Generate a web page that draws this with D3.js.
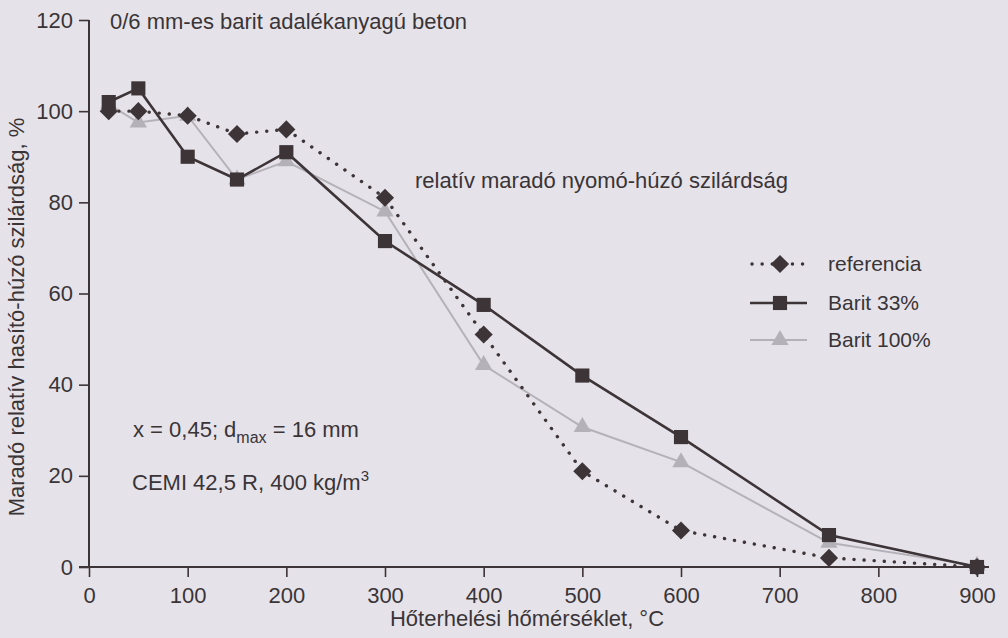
<!DOCTYPE html>
<html>
<head>
<meta charset="utf-8">
<script src="https://cdn.jsdelivr.net/npm/d3@7"></script>
<style>
  html, body { margin: 0; padding: 0; background: #e5e3e9; }
  svg { display: block; }
  svg text { font-family: "Liberation Sans", Arial, sans-serif; }
</style>
</head>
<body>
<svg id="chart" width="1008" height="638"></svg>
<script>
// temperatures (°C) and relative residual strength (%)
const temps = [20, 50, 100, 150, 200, 300, 400, 500, 600, 750, 900];
const referencia = [100, 100, 99, 95, 96, 81, 51, 21, 8, 2, 0];
const barit33 = [102, 105, 90, 85, 91, 71.5, 57.5, 42, 28.5, 7, 0];
const barit100 = [101.5, 97.5, 99, 85, 89, 78, 44.3, 30.7, 23, 5.3, 0.3];
const xTicks = [0, 100, 200, 300, 400, 500, 600, 700, 800, 900];
const yTicks = [0, 20, 40, 60, 80, 100, 120];

const DARK = '#3d3437';
const LIGHT = '#b4b2b8';
const TEXT = '#3a3437';

const svg = d3.select('#chart');

const x = d3.scaleLinear().domain([0, 900]).range([89, 977]);
const y = d3.scaleLinear().domain([0, 120]).range([567, 20]);

// axes
const xAxis = svg.append('g')
  .attr('transform', `translate(0,${y(0)})`)
  .call(d3.axisBottom(x).tickValues(xTicks).tickSize(10).tickPadding(10));
xAxis.select('.domain').remove();
xAxis.append('line')
  .attr('x1', x(0) - 10).attr('x2', x(900) + 12)
  .attr('stroke', DARK).attr('stroke-width', 2);

const yAxis = svg.append('g')
  .attr('transform', `translate(${x(0)},0)`)
  .call(d3.axisLeft(y).tickValues(yTicks).tickSize(10).tickPadding(6));
yAxis.select('.domain').remove();
yAxis.append('line')
  .attr('y1', y(120)).attr('y2', y(0))
  .attr('stroke', DARK).attr('stroke-width', 2);

svg.selectAll('.tick line').attr('stroke', DARK).attr('stroke-width', 1.6);
svg.selectAll('.tick text').attr('fill', TEXT).style('font-size', '22px');

// series
const rows = (vals) => temps.map((t, i) => [t, vals[i]]);
const line = d3.line().x(d => x(d[0])).y(d => y(d[1]));

svg.append('path').datum(rows(barit100))
  .attr('d', line).attr('fill', 'none')
  .attr('stroke', LIGHT).attr('stroke-width', 2);

svg.append('path').datum(rows(barit33))
  .attr('d', line).attr('fill', 'none')
  .attr('stroke', DARK).attr('stroke-width', 2.6);

svg.append('path').datum(rows(referencia))
  .attr('d', line).attr('fill', 'none')
  .attr('stroke', DARK).attr('stroke-width', 3.4)
  .attr('stroke-linecap', 'round')
  .attr('stroke-dasharray', '0.1 10');

const diamond = d3.symbol().type(d3.symbolDiamond2).size(210);
const square = d3.symbol().type(d3.symbolSquare).size(200);
const triangle = d3.symbol().type(d3.symbolTriangle).size(130);

svg.append('g').selectAll('path')
  .data(rows(barit100)).join('path')
  .attr('transform', d => `translate(${x(d[0])},${y(d[1])})`)
  .attr('d', triangle).attr('fill', LIGHT);

svg.append('g').selectAll('path')
  .data(rows(barit33)).join('path')
  .attr('transform', d => `translate(${x(d[0])},${y(d[1])})`)
  .attr('d', square).attr('fill', DARK);

svg.append('g').selectAll('path')
  .data(rows(referencia)).join('path')
  .attr('transform', d => `translate(${x(d[0])},${y(d[1])})`)
  .attr('d', diamond).attr('fill', DARK);

// legend
const legend = [
  { name: 'referencia', sym: diamond, color: DARK, width: 3.4, dash: '0.1 10', y: 264 },
  { name: 'Barit 33%', sym: square, color: DARK, width: 2.6, dash: null, y: 303 },
  { name: 'Barit 100%', sym: triangle, color: LIGHT, width: 2, dash: null, y: 340 }
];
const lg = svg.append('g').selectAll('g').data(legend).join('g')
  .attr('transform', d => `translate(750,${d.y})`);
lg.append('line')
  .attr('x1', d => d.dash ? 2 : 0).attr('x2', 57)
  .attr('stroke', d => d.color).attr('stroke-width', d => d.width)
  .attr('stroke-linecap', d => d.dash ? 'round' : 'butt')
  .attr('stroke-dasharray', d => d.dash);
lg.append('path')
  .attr('transform', 'translate(30,0)')
  .attr('d', d => d.sym()).attr('fill', d => d.color);
lg.append('text')
  .attr('x', 78).attr('dy', '0.35em')
  .attr('fill', TEXT).style('font-size', '21px')
  .text(d => d.name);

// texts
svg.append('text').attr('x', 110).attr('y', 29)
  .attr('fill', TEXT).style('font-size', '22px')
  .text('0/6 mm-es barit adalékanyagú beton');

svg.append('text').attr('x', 415).attr('y', 188)
  .attr('fill', TEXT).style('font-size', '22px')
  .text('relatív maradó nyomó-húzó szilárdság');

const t1 = svg.append('text').attr('x', 133).attr('y', 437)
  .attr('fill', TEXT).style('font-size', '22px');
t1.append('tspan').text('x = 0,45; d');
t1.append('tspan').attr('dy', 6).style('font-size', '16px').text('max');
t1.append('tspan').attr('dy', -6).text(' = 16 mm');

const t2 = svg.append('text').attr('x', 132).attr('y', 490)
  .attr('fill', TEXT).style('font-size', '22px');
t2.append('tspan').text('CEMI 42,5 R, 400 kg/m');
t2.append('tspan').attr('dy', -9).style('font-size', '15px').text('3');

svg.append('text')
  .attr('transform', 'translate(24,317) rotate(-90)')
  .attr('text-anchor', 'middle')
  .attr('fill', TEXT).style('font-size', '22px')
  .text('Maradó relatív hasító-húzó szilárdság, %');

svg.append('text')
  .attr('x', 527).attr('y', 626)
  .attr('text-anchor', 'middle')
  .attr('fill', TEXT).style('font-size', '22px')
  .text('Hőterhelési hőmérséklet, °C');
</script>
</body>
</html>
